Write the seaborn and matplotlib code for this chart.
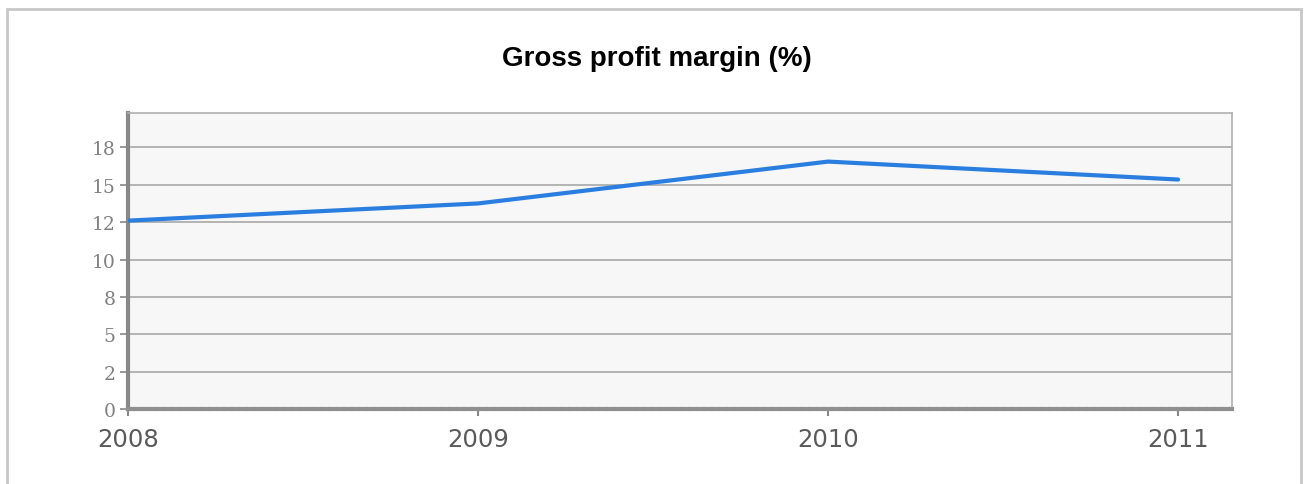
import matplotlib
matplotlib.use("Agg")
import matplotlib.pyplot as plt
from matplotlib.patches import Rectangle
from matplotlib.ticker import FuncFormatter, MultipleLocator
import pandas as pd
import seaborn as sns

years = [2008, 2009, 2010, 2011]
margin = [12.6, 13.75, 16.55, 15.35]
title = "Gross profit margin (%)"

df = pd.DataFrame({"year": years, "margin": margin})

sns.set_style("white")
plt.rcParams["font.family"] = ["DejaVu Sans"]

fig = plt.figure(figsize=(13.06, 4.85), dpi=100)
fig.patch.set_facecolor("white")

# outer panel frame
fig.patches.append(Rectangle((7 / 1306, -0.05), 1294 / 1306, 1.05 - 10 / 485,
                             transform=fig.transFigure, fill=False,
                             edgecolor="#c8c8c8", linewidth=2, zorder=0))

ax = fig.add_axes([128 / 1306, 1 - 410 / 485, 1104 / 1306, 296 / 485])
ax.set_facecolor("#f7f7f7")

sns.lineplot(data=df, x="year", y="margin", ax=ax, color="#2a7ee0",
             linewidth=3, zorder=3)

ax.set_xlim(2008, 2011.154)
ax.set_ylim(0, 19.8)
ax.yaxis.set_major_locator(MultipleLocator(2.5))
ax.yaxis.set_major_formatter(FuncFormatter(lambda v, p: f"{round(v)}"))
ax.set_xticks(years)
ax.set_xticklabels([str(y) for y in years])
ax.set_xlabel("")
ax.set_ylabel("")

ax.grid(axis="y", color="#a8a8a8", linewidth=1.2, zorder=1)
ax.grid(axis="x", visible=False)

ax.tick_params(axis="y", length=6, width=1.2, color="#888888", labelcolor="#808080",
               pad=3, left=True)
ax.tick_params(axis="x", length=5, width=1.5, color="#888888", labelcolor="#5a5a5a",
               pad=8, bottom=True)
for lbl in ax.get_yticklabels():
    lbl.set_fontfamily("DejaVu Serif")
    lbl.set_fontsize(13.5)
for lbl in ax.get_xticklabels():
    lbl.set_fontsize(17.5)
    lbl.set_fontweight("medium")

ax.spines["left"].set_color("#888888")
ax.spines["left"].set_linewidth(3)
ax.spines["bottom"].set_color("#8f8f8f")
ax.spines["bottom"].set_linewidth(3)
ax.spines["bottom"].set_linestyle((0, (1.2, 0.6)))
ax.spines["right"].set_color("#b0b0b0")
ax.spines["right"].set_linewidth(1.2)
ax.spines["top"].set_color("#b0b0b0")
ax.spines["top"].set_linewidth(1.2)

fig.text(657 / 1306, 1 - 59 / 485, title, ha="center", va="center", color="black",
         fontsize=20, fontweight="bold", family=["Liberation Sans", "DejaVu Sans"])

fig.savefig("out.png", dpi=100)
